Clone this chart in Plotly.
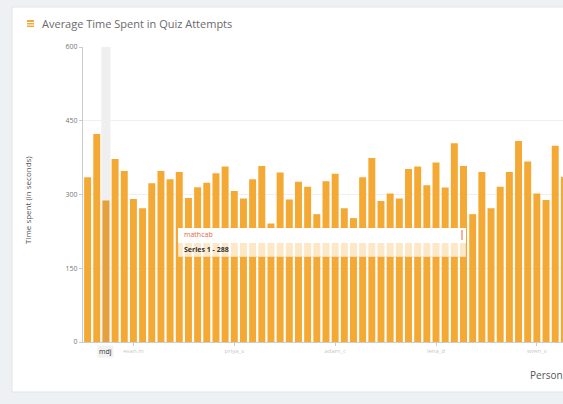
import plotly.graph_objects as go

persons = [
    'akhan', 'bluejay', 'mdj', 'carla_r', 'dpatel', 'evan.m', 'fionaw', 'gkumar',
    'hsato', 'ivy_l', 'jmorris', 'kelly22', 'lchen', 'mnovak', 'nina.b', 'oscar_t',
    'priya_s', 'qwu', 'rlopez', 'sam.k', 'tina_v', 'umar_h', 'vgreen', 'wbrown',
    'xli', 'yara_n', 'zoe.p', 'adam_c', 'bella_f', 'cody_j', 'dana_m', 'eli_r',
    'faye_g', 'gabe_s', 'hana_t', 'ian_w', 'jade_y', 'kurt_b', 'lena_d', 'milo_f',
    'nora_h', 'otto_k', 'pia_l', 'quinn_m', 'rosa_o', 'seth_p', 'tara_q', 'uma_s',
    'vito_u', 'wren_v', 'xena_w', 'yuri_x', 'zara_y',
]
time_spent = [
    335, 423, 288, 372, 348, 291, 272, 323, 348, 331,
    346, 293, 315, 324, 343, 357, 307, 292, 331, 358,
    241, 345, 290, 326, 316, 260, 327, 342, 272, 252,
    335, 374, 287, 302, 292, 352, 357, 319, 365, 314,
    404, 358, 260, 346, 272, 316, 346, 409, 367, 302,
    289, 399, 336,
]
y_ticks = [0, 150, 300, 450, 600]
tick_idx = [5, 16, 27, 38, 49]
hovered = 2
tooltip_title = 'mathcab'

ORANGE = '#f5a935'
colors = [ORANGE] * len(persons)
colors[hovered] = '#e3a03c'

fig = go.Figure()
fig.add_trace(go.Bar(
    x=persons,
    y=time_spent,
    name='Series 1',
    marker=dict(color=colors, line=dict(width=0)),
    showlegend=False,
))

# plot area: x 83..563, y 47..342 px
L, T, B, W, H = 83, 47, 62, 480, 295


def px(x):
    return (x - L) / W


def py(y):
    return (342 - y) / H


shapes = [
    # card
    dict(type='rect', xref='paper', yref='paper', layer='below',
         x0=px(12), x1=px(600), y0=py(392), y1=py(7),
         fillcolor='white', line=dict(color='#dfe4e8', width=1)),
    # hover band
    dict(type='rect', xref='x', yref='y', layer='below',
         x0=hovered - 0.5, x1=hovered + 0.5, y0=0, y1=y_ticks[-1],
         fillcolor='#efefef', line=dict(width=0)),
    # title icon
    dict(type='rect', xref='paper', yref='paper',
         x0=px(27), x1=px(34), y0=py(27), y1=py(20),
         fillcolor=ORANGE, line=dict(width=0)),
    dict(type='line', xref='paper', yref='paper',
         x0=px(27), x1=px(34), y0=py(22.5), y1=py(22.5),
         line=dict(color='white', width=1)),
    dict(type='line', xref='paper', yref='paper',
         x0=px(27), x1=px(34), y0=py(25), y1=py(25),
         line=dict(color='white', width=1)),
    # tooltip
    dict(type='rect', xref='paper', yref='paper',
         x0=px(178), x1=px(466), y0=py(257), y1=py(228),
         fillcolor='rgba(255,255,255,0.72)', line=dict(color='rgba(245,169,53,0.35)', width=1)),
    dict(type='rect', xref='paper', yref='paper',
         x0=px(178), x1=px(466), y0=py(243), y1=py(228),
         fillcolor='white', line=dict(width=0)),
    dict(type='line', xref='paper', yref='paper',
         x0=px(462), x1=px(462), y0=py(240), y1=py(230),
         line=dict(color='#e8663d', width=1)),
]

annotations = [
    dict(text='Average Time Spent in Quiz Attempts', xref='paper', yref='paper',
         x=px(40), y=py(24), xanchor='left', yanchor='middle', showarrow=False,
         font=dict(size=11, color='#6a6a6a')),
    dict(text='Time spent (in seconds)', xref='paper', yref='paper',
         x=px(27), y=py(200), xanchor='center', yanchor='middle', showarrow=False,
         textangle=-90, font=dict(size=8, color='#555')),
    dict(text='Person', xref='paper', yref='paper',
         x=px(528), y=py(375), xanchor='left', yanchor='middle', showarrow=False,
         font=dict(size=10, color='#555')),
    dict(text=persons[hovered], xref='x', yref='paper',
         x=hovered, y=py(351), xanchor='center', yanchor='middle', showarrow=False,
         bgcolor='#f2f2f2', font=dict(size=7, color='#333')),
    dict(text=tooltip_title, xref='paper', yref='paper',
         x=px(182), y=py(235), xanchor='left', yanchor='middle', showarrow=False,
         font=dict(size=7, color='#e8663d')),
    dict(text=f'<b>Series 1 - {time_spent[hovered]}</b>', xref='paper', yref='paper',
         x=px(182), y=py(249), xanchor='left', yanchor='middle', showarrow=False,
         font=dict(size=7, color='#333')),
]

fig.update_layout(
    width=563,
    height=404,
    margin=dict(l=L, r=0, t=T, b=B),
    paper_bgcolor='#eef1f4',
    plot_bgcolor='white',
    font=dict(family='Open Sans', size=7, color='#777'),
    bargap=0.24,
    shapes=shapes,
    annotations=annotations,
    xaxis=dict(
        range=[-0.5, 51.85],
        tickmode='array',
        tickvals=[persons[i] for i in tick_idx],
        ticktext=[persons[i] for i in tick_idx],
        ticks='outside', ticklen=3, tickcolor='#ccc',
        tickfont=dict(size=6, color='#c8c8c8'),
        showline=True, linecolor='#ccc',
        showgrid=False,
    ),
    yaxis=dict(
        range=[0, 600],
        tickvals=y_ticks,
        ticks='outside', ticklen=3, tickcolor='#ccc',
        tickfont=dict(size=7, color='#777'),
        showline=True, linecolor='#ccc',
        gridcolor='#f0f0f0',
        zeroline=False,
    ),
)

fig.write_html('out.html', config={'displayModeBar': False},
               post_script="document.body.style.margin='0';")
